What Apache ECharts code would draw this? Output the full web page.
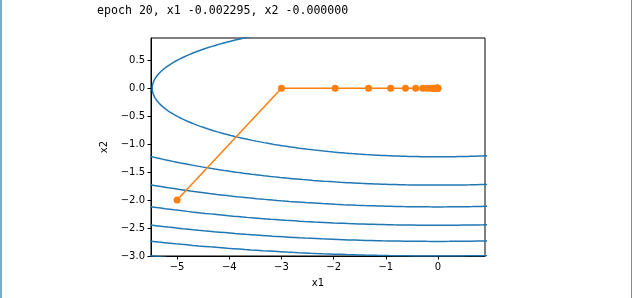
<!DOCTYPE html>
<html>
<head>
<meta charset="utf-8">
<script src="https://cdn.jsdelivr.net/npm/echarts@6/dist/echarts.min.js"></script>
<style>html,body{margin:0;padding:0;background:#fff;}#c{width:632px;height:298px;}</style>
</head>
<body>
<div id="c"></div>
<script>
// Title text
var titleText = 'epoch 20, x1 -0.002295, x2 -0.000000';
// Adagrad trajectory
var trajX1 = [-5, -3.0, -1.971, -1.3306, -0.9080, -0.6226, -0.4278, -0.2942, -0.2025, -0.1394, -0.0960, -0.0661, -0.0455, -0.0313, -0.0216, -0.0148, -0.0102, -0.0070, -0.0048, -0.0033, -0.0023];
var trajX2 = [-2, 0, 0, 0, 0, 0, 0, 0, 0, 0, 0, 0, 0, 0, 0, 0, 0, 0, 0, 0, 0];
// Contour levels of f(x1,x2) = 0.1*x1^2 + 2*x2^2
var contourLevels = [3, 6, 9, 12, 15, 18, 21];
var fCoefX1 = 0.1, fCoefX2 = 2;
// Axis ticks
var xTicks = [-5, -4, -3, -2, -1, 0];
var yTicks = [-3.0, -2.5, -2.0, -1.5, -1.0, -0.5, 0.0, 0.5];
var xRange = [-5.5, 0.9];
var yRange = [-3.0, 0.9];

function ellipse(c) {
  var a = Math.sqrt(c / fCoefX1), b = Math.sqrt(c / fCoefX2);
  var pts = [];
  var n = 720;
  for (var i = 0; i <= n; i++) {
    var t = 2 * Math.PI * i / n;
    pts.push([a * Math.cos(t), b * Math.sin(t)]);
  }
  return pts;
}
function fmt(v, d) {
  return v.toFixed(d).replace('-', '\u2212');
}

var series = contourLevels.map(function (c) {
  return {
    type: 'line', data: ellipse(c), showSymbol: false, symbol: 'none',
    lineStyle: { color: '#1f77b4', width: 1.5 }, clip: true, silent: true, z: 2
  };
});
series.push({
  type: 'line',
  data: trajX1.map(function (v, i) { return [v, trajX2[i]]; }),
  symbol: 'circle', symbolSize: 7, showSymbol: true,
  itemStyle: { color: '#ff7f0e' },
  lineStyle: { color: '#ff7f0e', width: 1.5 }, clip: true, z: 3
});

var chart = echarts.init(document.getElementById('c'), null, { renderer: 'canvas' });
var tickFont = { fontFamily: 'DejaVu Sans', fontSize: 10, color: '#000' };
chart.setOption({
  animation: false,
  backgroundColor: '#fff',
  grid: { left: 151, top: 38, width: 334, height: 218, show: true, borderColor: '#000', borderWidth: 1, backgroundColor: 'transparent' },
  xAxis: {
    type: 'value', min: xRange[0], max: xRange[1],
    name: 'x1', nameLocation: 'middle', nameGap: 22,
    nameTextStyle: tickFont,
    axisLine: { show: true, onZero: false, lineStyle: { color: '#000', width: 1 } },
    axisTick: { show: true, length: 3.5, customValues: xTicks, lineStyle: { color: '#000' } },
    axisLabel: { customValues: xTicks, margin: 6, fontFamily: 'DejaVu Sans', fontSize: 10, color: '#000', formatter: function (v) { return fmt(v, 0); } },
    splitLine: { show: false }
  },
  yAxis: {
    type: 'value', min: yRange[0], max: yRange[1],
    name: 'x2', nameLocation: 'middle', nameGap: 33, nameRotate: 90,
    nameTextStyle: tickFont,
    axisLine: { show: true, onZero: false, lineStyle: { color: '#000', width: 1 } },
    axisTick: { show: true, length: 3.5, customValues: yTicks, lineStyle: { color: '#000' } },
    axisLabel: { customValues: yTicks, margin: 6, fontFamily: 'DejaVu Sans', fontSize: 10, color: '#000', formatter: function (v) { return fmt(v, 1); } },
    splitLine: { show: false }
  },
  graphic: [
    { type: 'text', left: 97, top: 5, style: { text: titleText, fontFamily: 'DejaVu Sans Mono', fontSize: 11.6, fill: '#000' } },
    { type: 'rect', shape: { x: 0, y: 0, width: 2, height: 298 }, style: { fill: '#6fb3c0' } },
    { type: 'rect', shape: { x: 631, y: 0, width: 1, height: 298 }, style: { fill: '#8a8a8a' } }
  ],
  series: series
});
</script>
</body>
</html>
